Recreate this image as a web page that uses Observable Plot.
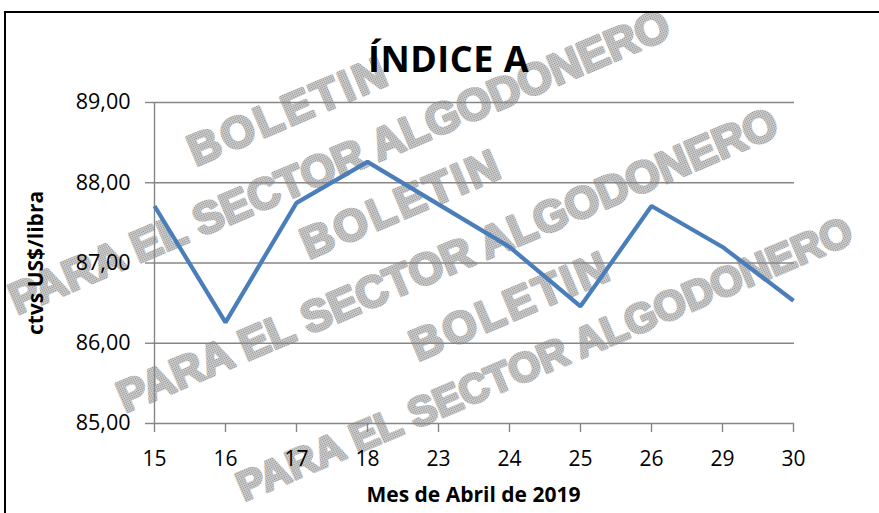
<!DOCTYPE html>
<html>
<head>
<meta charset="utf-8">
<script src="https://cdn.jsdelivr.net/npm/d3@7"></script>
<script src="https://cdn.jsdelivr.net/npm/@observablehq/plot@0.6"></script>
<style>
  html, body { margin: 0; padding: 0; background: #fff; }
  #wrap { position: relative; width: 879px; height: 513px; overflow: hidden; background: #fff; }
  #wm, #chart { position: absolute; left: 0; top: 0; }
  #chart svg { display: block; }
  #title { position: absolute; left: 0; width: 897px; top: 41px; text-align: center; letter-spacing: 0.5px;
           font-family: "Open Sans", sans-serif; font-weight: bold; font-size: 36px; line-height: 1; color: #000; }
  #border { position: absolute; left: 4px; top: 11px; width: 2000px; height: 2000px; border: 2px solid #000; box-sizing: border-box; }
</style>
</head>
<body>
<div id="wrap">
  <svg id="wm" width="879" height="513"></svg>
  <div id="chart"></div>
  <div id="title"></div>
  <div id="border"></div>
</div>
<script>
// ---- data ----
const days = ["15", "16", "17", "18", "23", "24", "25", "26", "29", "30"];
const values = [87.71, 86.26, 87.75, 88.26, 87.73, 87.20, 86.46, 87.71, 87.20, 86.53];
const yTicks = [85, 86, 87, 88, 89];
const titleText = "ÍNDICE A";
const yLabel = "ctvs US$/libra";
const xLabel = "Mes de Abril de 2019";
const wmWord1 = "BOLETIN";
const wmWord2 = "PARA EL SECTOR ALGODONERO";

const rows = days.map((d, i) => ({day: d, value: values[i]}));

document.getElementById("title").textContent = titleText;

// ---- watermark (background decoration) ----
const wm = d3.select("#wm");
const pat = wm.append("defs").append("pattern")
  .attr("id", "dots").attr("width", 2).attr("height", 2).attr("patternUnits", "userSpaceOnUse");
pat.append("rect").attr("width", 2).attr("height", 2).attr("fill", "#cdcdcd");
pat.append("rect").attr("width", 1).attr("height", 1).attr("fill", "#8a8a8a");
const wmItems = [
  {t: wmWord1, x: 288, y: 110, ls: 3, fs: 44},
  {t: wmWord2, x: 339, y: 161, ls: 0, fs: 44},
  {t: wmWord1, x: 401, y: 203, ls: 3, fs: 44},
  {t: wmWord2, x: 447, y: 259, ls: 0, fs: 44},
  {t: wmWord1, x: 510, y: 305, ls: 3, fs: 44},
  {t: wmWord2, x: 544, y: 358, ls: 0, fs: 41}
];
wm.selectAll("text").data(wmItems).join("text")
  .attr("transform", d => `translate(${d.x},${d.y}) rotate(-23)`)
  .attr("text-anchor", "middle")
  .attr("dy", "0.36em")
  .attr("font-family", "'Liberation Sans', Arial, sans-serif")
  .attr("font-weight", "bold")
  .attr("font-size", d => d.fs)
  .attr("letter-spacing", d => d.ls)
  .attr("fill", "url(#dots)")
  .attr("stroke", "url(#dots)")
  .attr("stroke-width", 3)
  .attr("stroke-linejoin", "round")
  .text(d => d.t);

// ---- chart ----
const fmt = d => d.toFixed(2).replace(".", ",");
const chart = Plot.plot({
  width: 879,
  height: 513,
  marginLeft: 152,
  marginRight: 85,
  marginTop: 102,
  marginBottom: 90,
  style: {background: "transparent", fontFamily: "'Open Sans', sans-serif", fontSize: "21px", color: "#000", overflow: "visible"},
  x: {type: "point", domain: days, padding: 0},
  y: {domain: [85, 89]},
  marks: [
    Plot.gridY(yTicks, {stroke: "#868686", strokeOpacity: 1, strokeWidth: 1.4}),
    Plot.ruleX([days[0]], {stroke: "#868686", strokeWidth: 1.4}),
    Plot.axisY(yTicks, {tickSize: 7, tickPadding: 15, tickFormat: fmt, stroke: "#868686", strokeWidth: 1.4, label: null, fontSize: 21.5}),
    Plot.axisX({tickSize: 9, tickPadding: 19, stroke: "#868686", strokeWidth: 1.4, label: null, fontSize: 21}),
    Plot.lineY(rows, {x: "day", y: "value", stroke: "#4a7ebb", strokeWidth: 4.2, strokeLinejoin: "miter", strokeLinecap: "butt"}),
    Plot.text([yLabel], {frameAnchor: "left", textAnchor: "middle", lineAnchor: "middle", dx: -116, rotate: -90, fontWeight: "bold", fontSize: 21}),
    Plot.text([xLabel], {frameAnchor: "bottom", textAnchor: "middle", lineAnchor: "middle", dy: 72, fontWeight: "bold", fontSize: 21})
  ]
});
document.getElementById("chart").appendChild(chart);
</script>
</body>
</html>
